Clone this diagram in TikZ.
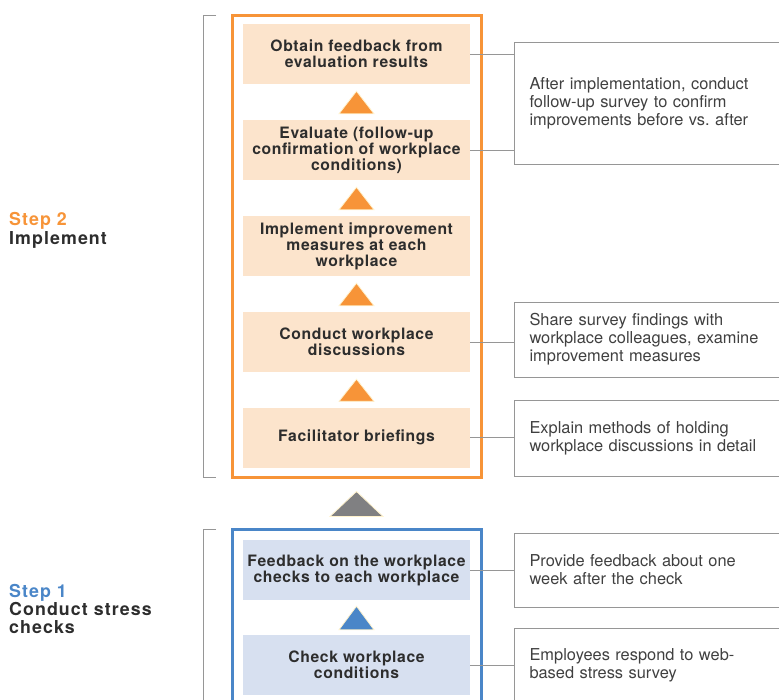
\documentclass[tikz,border=0pt]{standalone}
\usepackage{fontspec}
\usetikzlibrary{calc}
\setmainfont{TeX Gyre Heros}
\newfontfamily\stepfont[LetterSpace=6]{TeX Gyre Heros}
\newfontfamily\boxfont[LetterSpace=4]{TeX Gyre Heros}
\newfontfamily\notefont{TeX Gyre Heros}

\definecolor{stepor}{RGB}{247,148,56}
\definecolor{beige}{RGB}{252,228,204}
\definecolor{stepbl}{RGB}{74,134,200}
\definecolor{paleblue}{RGB}{215,224,240}
\definecolor{arrowgray}{RGB}{128,128,130}
\definecolor{linegray}{RGB}{150,150,150}
\definecolor{textdark}{RGB}{45,45,45}
\definecolor{notetext}{RGB}{64,64,64}
\definecolor{tipedge}{RGB}{255,242,205}

\begin{document}
\begin{tikzpicture}[x=1pt,y=-1pt,
  stepbox/.style={minimum width=227pt, minimum height=60pt, inner sep=0pt,
    align=center, text=textdark,
    font=\boxfont\bfseries\fontsize{15.7}{16}\selectfont},
  orangebox/.style={stepbox, fill=beige},
  bluebox/.style={stepbox, fill=paleblue},
  frame/.style={line width=3pt, minimum width=249pt, inner sep=0pt},
  note/.style={draw=linegray, line width=1pt, anchor=west,
    minimum width=280pt, text width=250pt, inner xsep=15pt, inner ysep=0pt,
    align=left, text=notetext, font=\notefont\fontsize{16.4}{18}\selectfont},
  link/.style={draw=linegray, line width=1pt},
  bracket/.style={draw=linegray, line width=1pt},
  steplabel/.style={anchor=base west, inner sep=0pt,
    font=\stepfont\bfseries\fontsize{17.8}{19}\selectfont},
  uptip/.style={line width=0.8pt, draw=tipedge},
]
\useasboundingbox (0,0) rectangle (779,699);
\clip (0,0) rectangle (779,699);

% frames around the two stages
\node[frame, draw=stepor, minimum height=462pt] (f2) at (356.5,246) {};
\node[frame, draw=stepbl, minimum height=231pt] (f1) at (356.5,644.5) {};

% brackets at the left of each stage
\draw[bracket] (216,15) -- (203,15) -- (203,477) -- (216,477);
\draw[bracket] (216,529) -- (203,529) -- (203,715);

% step labels
\node[steplabel, text=stepor] (s2) at (9,225) {Step 2};
\node[steplabel, text=textdark] (s2t) at (9,244) {Implement};
\node[steplabel, text=stepbl] (s1) at (9,597) {Step 1};
\node[steplabel, text=textdark] (s1t) at (9,615.5) {Conduct stress};
\node[steplabel, text=textdark] (s1u) at (9,633) {checks};

% Step 2 boxes
\node[orangebox] (b1) at (356.5,54) {Obtain feedback from\\evaluation results};
\node[orangebox] (b2) at (356.5,150) {Evaluate (follow-up\\confirmation of workplace\\conditions)};
\node[orangebox] (b3) at (356.5,246) {Implement improvement\\measures at each\\workplace};
\node[orangebox] (b4) at (356.5,342) {Conduct workplace\\discussions};
\node[orangebox] (b5) at (356.5,437.5) {Facilitator briefings};

% Step 1 boxes
\node[bluebox] (c1) at (356.5,570) {Feedback on the workplace\\checks to each workplace};
\node[bluebox] (c2) at (356.5,665) {Check workplace\\conditions};

% upward triangles between boxes
\foreach \lo/\hi in {b2/b1, b3/b2, b4/b3, b5/b4}{
  \filldraw[uptip, fill=stepor]
    ($(\lo.north)+(-17.5,-6)$) -- ($(\hi.south)+(0,7)$) -- ($(\lo.north)+(17.5,-6)$) -- cycle;
}
\filldraw[uptip, fill=stepbl]
  ($(c2.north)+(-17.5,-5)$) -- ($(c1.south)+(0,6)$) -- ($(c2.north)+(17.5,-5)$) -- cycle;
\filldraw[uptip, fill=arrowgray]
  ($(f1.north)+(-26.5,-11)$) -- ($(f2.south)+(0,13)$) -- ($(f1.north)+(26.5,-11)$) -- cycle;

% notes on the right
\node[note, minimum height=122pt] (n1) at (514,103)
  {After implementation, conduct\\follow-up survey to confirm\\improvements before vs.\ after};
\node[note, minimum height=75pt] (n2) at (514,339.5)
  {Share survey findings with\\workplace colleagues, examine\\improvement measures};
\node[note, minimum height=76pt] (n3) at (514,438)
  {Explain methods of holding\\workplace discussions in detail};
\node[note, minimum height=74pt] (n4) at (514,570)
  {Provide feedback about one\\week after the check};
\node[note, minimum height=74pt] (n5) at (514,665)
  {Employees respond to web-\\based stress survey};

% connectors from boxes to notes
\draw[link] (b1.east) -- (b1.east -| n1.west);
\draw[link] (b2.east) -- (b2.east -| n1.west);
\draw[link] (b4.east) -- (b4.east -| n2.west);
\draw[link] (b5.east) -- (b5.east -| n3.west);
\draw[link] (c1.east) -- (c1.east -| n4.west);
\draw[link] (c2.east) -- (c2.east -| n5.west);
\end{tikzpicture}
\end{document}
